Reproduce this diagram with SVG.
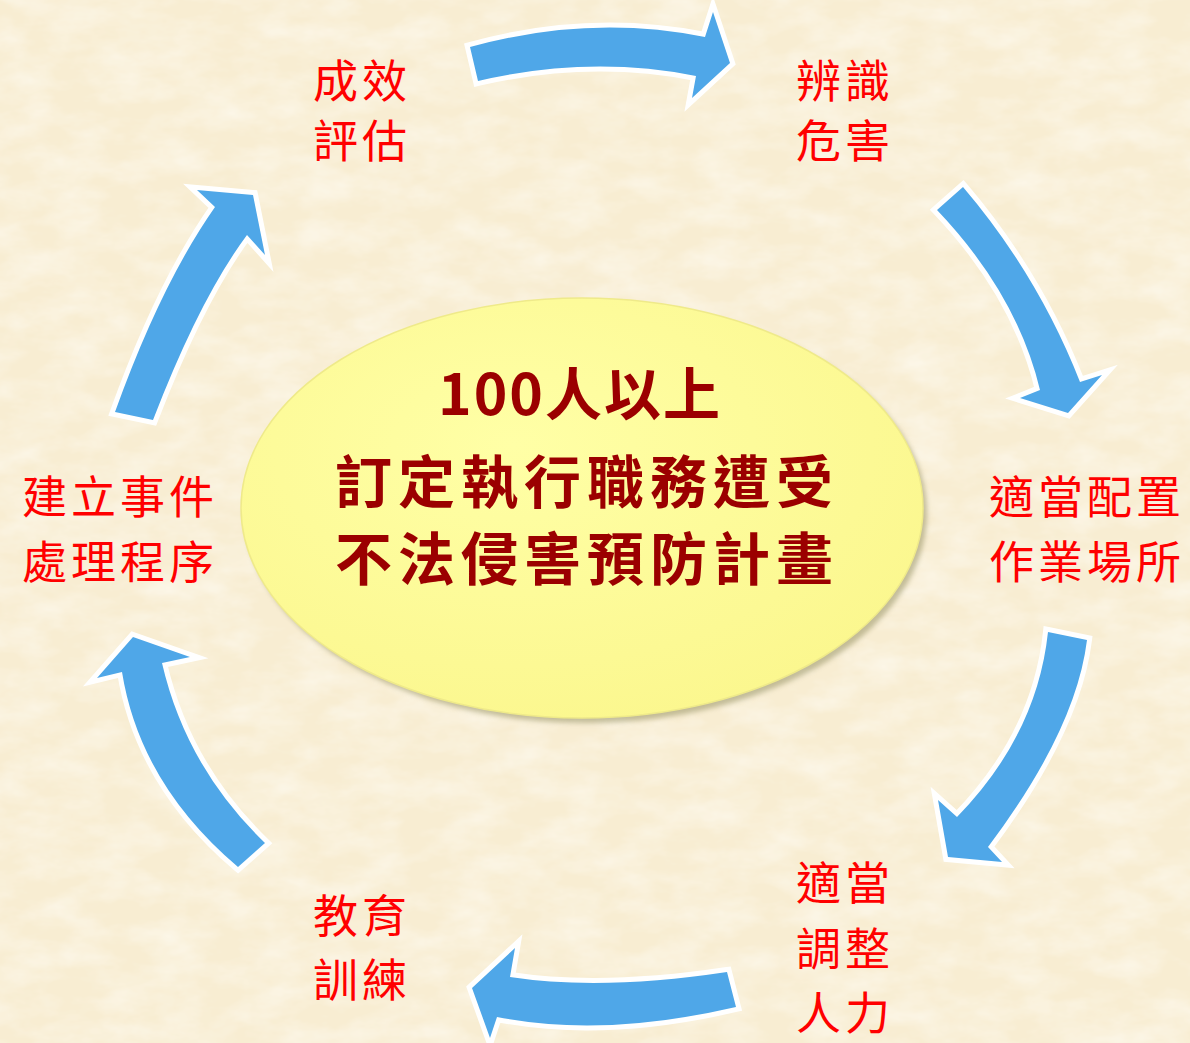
<svg xmlns="http://www.w3.org/2000/svg" width="1190" height="1043" viewBox="0 0 1190 1043">
<defs>
<filter id="paper" x="0" y="0" width="100%" height="100%" filterUnits="userSpaceOnUse">
<feTurbulence type="fractalNoise" baseFrequency="0.02 0.04" numOctaves="4" seed="7"/>
<feColorMatrix type="matrix" values="0 0 0 0 1  0 0 0 0 0.99  0 0 0 0 0.95  0 0 0 0.9 -0.3"/>
</filter>
<filter id="blur" x="-10%" y="-10%" width="120%" height="120%"><feGaussianBlur stdDeviation="2.5"/></filter>
<radialGradient id="ellg" cx="0.4" cy="0.35" r="0.7">
<stop offset="0" stop-color="#FFFFA6"/>
<stop offset="1" stop-color="#FBF78E"/>
</radialGradient>
</defs>
<style>
.arrow{fill:#4FA7E8;stroke:#FFFFFF;stroke-width:10;paint-order:stroke;stroke-linejoin:miter;stroke-miterlimit:8}
.lbl{font-family:"Noto Sans CJK TC","Noto Sans CJK SC",sans-serif;font-size:45px;letter-spacing:4px;fill:#FF0000;text-anchor:middle;dominant-baseline:central}
.ctr{font-family:"Noto Sans CJK TC","Noto Sans CJK SC",sans-serif;font-size:57px;font-weight:700;fill:#9B0000;text-anchor:middle;dominant-baseline:central}
</style>
<rect width="1190" height="1043" fill="#F8EDD2"/>
<rect width="1190" height="1043" filter="url(#paper)"/>
<g id="connectors">
<path class="arrow" d="M 470,47 Q 590,14 705,37 L 713,12 L 730,63 L 692,98 L 696,76 Q 590,55 478,81 Z"/>
<path class="arrow" d="M 937,210 L 963,187 Q 1038,275 1080,382 L 1102,375 L 1068,413 L 1020,398 L 1040,390 Q 1017,294 937,210 Z"/>
<path class="arrow" d="M 1048,632 L 1087,640 Q 1076,730 988,847 L 1002,862 L 948,857 L 938,800 L 957,817 Q 1037,735 1048,632 Z"/>
<path class="arrow" d="M 727,972 Q 601,991 510,977 L 515,948 L 472,988 L 490,1038 L 497,1017 Q 603,1038 736,1007 Z"/>
<path class="arrow" d="M 265,843 Q 186,767 162,663 L 190,657 L 133,637 L 97,678 L 122,672 Q 140,784 238,867 Z"/>
<path class="arrow" d="M 115,412 Q 161,284 215,207 L 197,190 L 253,195 L 265,255 L 247,235 Q 200,298 153,420 Z"/>
</g>
<g id="center">
<ellipse cx="586" cy="513" rx="341" ry="210" fill="#8E8A5A" opacity="0.5" filter="url(#blur)"/>
<ellipse cx="582" cy="508" rx="341" ry="210" fill="url(#ellg)" stroke="#EFEA8A" stroke-width="1.5"/>
<text class="ctr" x="580" y="390" letter-spacing="2">100人以上</text>
<text class="ctr" x="587" y="478" letter-spacing="6">訂定執行職務遭受</text>
<text class="ctr" x="587" y="555" letter-spacing="6">不法侵害預防計畫</text>
</g>
<g id="node-evaluate">
<text class="lbl" x="362" y="78">成效</text>
<text class="lbl" x="362" y="138">評估</text>
</g>
<g id="node-identify">
<text class="lbl" x="845" y="78">辨識</text>
<text class="lbl" x="845" y="138">危害</text>
</g>
<g id="node-workplace">
<text class="lbl" x="1087" y="494">適當配置</text>
<text class="lbl" x="1087" y="559">作業場所</text>
</g>
<g id="node-staffing">
<text class="lbl" x="845" y="880">適當</text>
<text class="lbl" x="845" y="946">調整</text>
<text class="lbl" x="845" y="1010">人力</text>
</g>
<g id="node-training">
<text class="lbl" x="362" y="913">教育</text>
<text class="lbl" x="362" y="977">訓練</text>
</g>
<g id="node-procedure">
<text class="lbl" x="120" y="494">建立事件</text>
<text class="lbl" x="120" y="559">處理程序</text>
</g>
</svg>
